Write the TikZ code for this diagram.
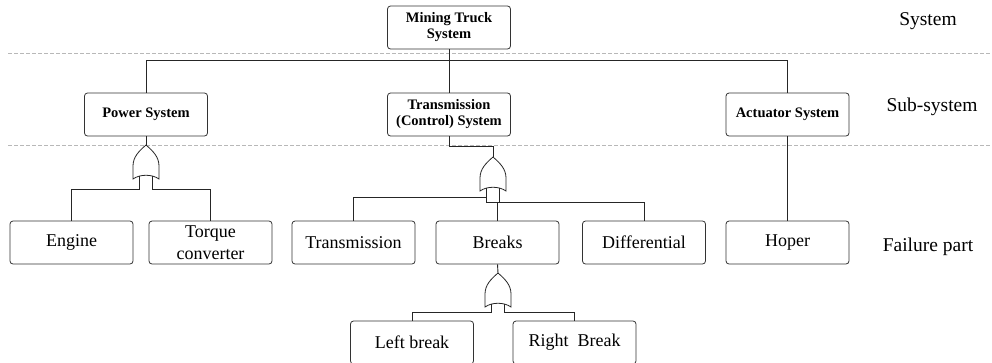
\documentclass[tikz,border=0pt]{standalone}
\usepackage{fontspec}
\setmainfont{Liberation Serif}
\tikzset{
  orgate/.pic={
    \draw[gateline] (0,0) .. controls (-7,6) and (-13,12) .. (-13,21) -- (-13,34)
      .. controls (-6,29) and (6,29) .. (13,34) -- (13,21)
      .. controls (13,12) and (7,6) .. (0,0);
    \coordinate (-top) at (0,0);
    \coordinate (-in1) at (-6.5,31);
    \coordinate (-in2) at (6.5,31);
  }
}
\begin{document}
\begin{tikzpicture}[x=1pt, y=-1pt,
    box/.style={draw=black!80, line width=0.8pt, rounded corners=3pt,
      minimum width=123pt, minimum height=43pt, inner sep=1pt, align=center},
    sysbox/.style={box, font=\fontsize{14.5}{16}\selectfont\bfseries},
    partbox/.style={box, font=\fontsize{18}{22}\selectfont},
    levellabel/.style={font=\fontsize{19.5}{22}\selectfont},
    sepline/.style={draw=black!28, line width=0.7pt, dash pattern=on 4pt off 2pt},
    gateline/.style={draw=black!85, line width=0.8pt},
    link/.style={draw=black!85, line width=0.9pt}]
  \useasboundingbox (0,0) rectangle (992,362);

  \draw[sepline] (8,53) -- (992,53);
  \draw[sepline] (8,145) -- (992,145);

  \node[levellabel] (lsys) at (928,21) {System};
  \node[levellabel] (lsub) at (932,107) {Sub-system};
  \node[levellabel] (lpart) at (928,247) {Failure part};

  \node[sysbox] (truck) at (449,27.5) {Mining Truck\\System};

  \node[sysbox] (power) at (146,114.5) {Power System};
  \node[sysbox] (trans) at (449,114.5) {Transmission\\(Control) System};
  \node[sysbox] (actuator) at (787.5,114.5) {Actuator System};

  \node[partbox] (engine) at (71.5,242.5) {Engine};
  \node[partbox] (torque) at (210.5,242.5) {Torque\\converter};
  \node[partbox] (transm) at (353.5,242.5) {Transmission};
  \node[partbox] (breaks) at (497.5,242.5) {Breaks};
  \node[partbox] (diff) at (644,242.5) {Differential};
  \node[partbox] (hoper) at (787.5,242.5) {Hoper};

  \node[partbox] (lbreak) at (412,342.5) {Left break};
  \node[partbox] (rbreak) at (574.5,342.5) {Right\ \ Break};

  \pic (g1) at (146,145) {orgate};
  \pic (g2) at (493,157) {orgate};
  \pic (g3) at (498,273) {orgate};

  \draw[link] (truck.south) -- (trans.north);
  \draw[link] (truck.south) ++(0,11) coordinate (bus);
  \draw[link] (power.north) |- (bus) -| (actuator.north);
  \draw[link] (actuator.south) -- (hoper.north);

  \draw[link] (power.south) -- (g1-top);
  \draw[link] (g1-in1) -- ++(0,13) -| (engine.north);
  \draw[link] (g1-in2) -- ++(0,13) -| (torque.north);

  \draw[link] (trans.south) -- ++(0,10) -| (g2-top);
  \draw[link] (g2-in1) -- ++(0,14) -| (diff.north);
  \draw[link] (g2-in2) -- ++(0,14);
  \draw[link] (g2-in1) ++(0,9) -| (transm.north);
  \draw[link] (breaks.north) -- ++(0,-18);

  \draw[link] (breaks.south) -- (g3-top);
  \draw[link] (g3-in1) -- ++(0,8) -| (lbreak.north);
  \draw[link] (g3-in2) -- ++(0,8) -| (rbreak.north);
\end{tikzpicture}
\end{document}
